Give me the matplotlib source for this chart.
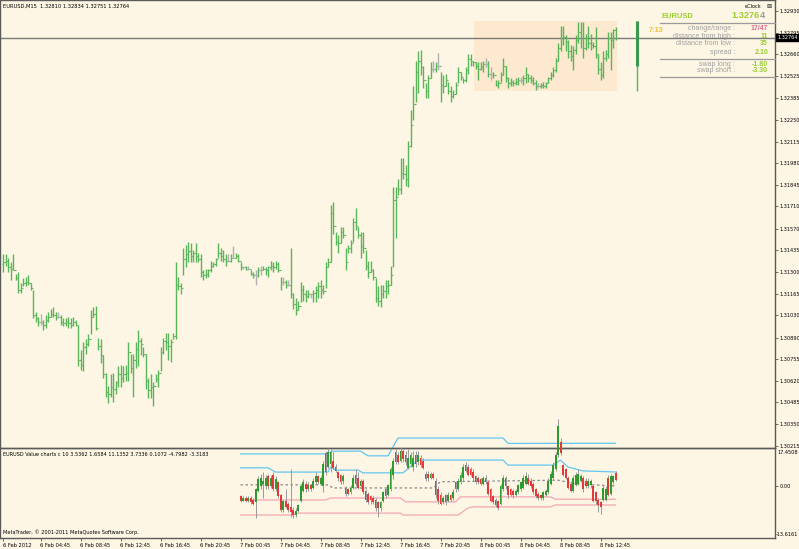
import matplotlib
matplotlib.use("Agg")
import matplotlib.pyplot as plt
import matplotlib.transforms as mtrans
from matplotlib.patches import Rectangle
import numpy as np

W, H = 799, 549
BG = '#fdf6e4'
plt.rcParams['font.family'] = ['DejaVu Sans']

# EURUSD M15 bars, 6 Feb 2012 -> 8 Feb 2012
highs = [
    1.3141, 1.3141, 1.3139, 1.3136, 1.3141, 1.3129, 1.3130, 1.3123, 1.3126, 1.3127,
    1.3128, 1.3123, 1.3119, 1.3105, 1.3102, 1.3104, 1.3100, 1.3103, 1.3105, 1.3107,
    1.3108, 1.3105, 1.3105, 1.3103, 1.3101, 1.3101, 1.3102, 1.3101, 1.3102, 1.3100,
    1.3097, 1.3081, 1.3086, 1.3088, 1.3091, 1.3106, 1.3108, 1.3109, 1.3089, 1.3088,
    1.3078, 1.3067, 1.3059, 1.3066, 1.3067, 1.3062, 1.3071, 1.3072, 1.3071, 1.3072,
    1.3086, 1.3079, 1.3079, 1.3086, 1.3094, 1.3089, 1.3083, 1.3079, 1.3064, 1.3066,
    1.3061, 1.3066, 1.3069, 1.3083, 1.3089, 1.3092, 1.3092, 1.3088, 1.3092, 1.3136,
    1.3127, 1.3123, 1.3145, 1.3147, 1.3149, 1.3148, 1.3144, 1.3148, 1.3142, 1.3141,
    1.3131, 1.3132, 1.3132, 1.3137, 1.3136, 1.3139, 1.3148, 1.3145, 1.3144, 1.3141,
    1.3141, 1.3141, 1.3146, 1.3142, 1.3141, 1.3136, 1.3134, 1.3134, 1.3134, 1.3131,
    1.3130, 1.3131, 1.3133, 1.3134, 1.3134, 1.3133, 1.3134, 1.3137, 1.3136, 1.3137,
    1.3136, 1.3127, 1.3127, 1.3125, 1.3125, 1.3145, 1.3117, 1.3114, 1.3112, 1.3124,
    1.3122, 1.3119, 1.3119, 1.3117, 1.3119, 1.3121, 1.3124, 1.3125, 1.3122, 1.3136,
    1.3139, 1.3172, 1.3174, 1.3155, 1.3153, 1.3158, 1.3158, 1.3145, 1.3147, 1.3150,
    1.3164, 1.3170, 1.3158, 1.3155, 1.3155, 1.3144, 1.3137, 1.3137, 1.3132, 1.3126,
    1.3121, 1.3122, 1.3122, 1.3125, 1.3125, 1.3134, 1.3183, 1.3183, 1.3188, 1.3201,
    1.3201, 1.3197, 1.3212, 1.3231, 1.3246, 1.3262, 1.3268, 1.3269, 1.3259, 1.3248,
    1.3253, 1.3261, 1.3262, 1.3261, 1.3267, 1.3255, 1.3253, 1.3254, 1.3249, 1.3246,
    1.3244, 1.3249, 1.3258, 1.3255, 1.3251, 1.3258, 1.3266, 1.3266, 1.3262, 1.3261,
    1.3261, 1.3261, 1.3262, 1.3264, 1.3262, 1.3258, 1.3255, 1.3250, 1.3250, 1.3255,
    1.3264, 1.3259, 1.3252, 1.3251, 1.3250, 1.3251, 1.3252, 1.3252, 1.3253, 1.3258,
    1.3254, 1.3253, 1.3252, 1.3250, 1.3248, 1.3248, 1.3249, 1.3249, 1.3252, 1.3255,
    1.3258, 1.3264, 1.3273, 1.3284, 1.3284, 1.3278, 1.3275, 1.3272, 1.3271, 1.3278,
    1.3286, 1.3286, 1.3286, 1.3279, 1.3284, 1.3279, 1.3274, 1.3283, 1.3266, 1.3261,
    1.3268, 1.3269, 1.3280, 1.3280, 1.3282, 1.32834,
]
lows = [
    1.3130, 1.3134, 1.3130, 1.3125, 1.3131, 1.3125, 1.3117, 1.3117, 1.3121, 1.3121,
    1.3122, 1.3119, 1.3101, 1.3099, 1.3096, 1.3097, 1.3094, 1.3095, 1.3099, 1.3102,
    1.3102, 1.3100, 1.3101, 1.3097, 1.3096, 1.3096, 1.3095, 1.3095, 1.3096, 1.3096,
    1.3071, 1.3069, 1.3068, 1.3079, 1.3084, 1.3091, 1.3102, 1.3094, 1.3081, 1.3073,
    1.3064, 1.3052, 1.3048, 1.3052, 1.3049, 1.3054, 1.3058, 1.3058, 1.3061, 1.3062,
    1.3062, 1.3067, 1.3052, 1.3070, 1.3071, 1.3078, 1.3077, 1.3057, 1.3051, 1.3051,
    1.3046, 1.3061, 1.3058, 1.3068, 1.3079, 1.3081, 1.3075, 1.3074, 1.3088, 1.3088,
    1.3119, 1.3116, 1.3128, 1.3133, 1.3136, 1.3136, 1.3136, 1.3136, 1.3136, 1.3127,
    1.3125, 1.3126, 1.3127, 1.3130, 1.3133, 1.3134, 1.3139, 1.3137, 1.3136, 1.3134,
    1.3136, 1.3136, 1.3139, 1.3139, 1.3136, 1.3131, 1.3132, 1.3131, 1.3131, 1.3128,
    1.3126, 1.3122, 1.3127, 1.3128, 1.3131, 1.3128, 1.3127, 1.3131, 1.3130, 1.3132,
    1.3130, 1.3119, 1.3122, 1.3120, 1.3121, 1.3114, 1.3107, 1.3103, 1.3106, 1.3111,
    1.3112, 1.3111, 1.3114, 1.3114, 1.3111, 1.3111, 1.3114, 1.3114, 1.3116, 1.3120,
    1.3133, 1.3136, 1.3154, 1.3147, 1.3142, 1.3148, 1.3151, 1.3131, 1.3142, 1.3142,
    1.3149, 1.3156, 1.3151, 1.3139, 1.3142, 1.3131, 1.3126, 1.3130, 1.3125, 1.3111,
    1.3109, 1.3108, 1.3114, 1.3114, 1.3116, 1.3122, 1.3133, 1.3151, 1.3178, 1.3179,
    1.3188, 1.3184, 1.3183, 1.3208, 1.3225, 1.3236, 1.3242, 1.3253, 1.3245, 1.3239,
    1.3239, 1.3251, 1.3255, 1.3255, 1.3256, 1.3236, 1.3242, 1.3246, 1.3241, 1.3236,
    1.3239, 1.3241, 1.3248, 1.3250, 1.3248, 1.3249, 1.3254, 1.3259, 1.3259, 1.3257,
    1.3250, 1.3256, 1.3255, 1.3258, 1.3252, 1.3250, 1.3251, 1.3246, 1.3245, 1.3249,
    1.3253, 1.3249, 1.3245, 1.3246, 1.3246, 1.3247, 1.3247, 1.3248, 1.3247, 1.3248,
    1.3249, 1.3248, 1.3247, 1.3244, 1.3245, 1.3245, 1.3245, 1.3245, 1.3248, 1.3250,
    1.3252, 1.3255, 1.3262, 1.3268, 1.3272, 1.3268, 1.3264, 1.3262, 1.3256, 1.3266,
    1.3273, 1.3270, 1.3264, 1.3269, 1.3270, 1.3269, 1.3270, 1.3264, 1.3254, 1.3250,
    1.3251, 1.3262, 1.3264, 1.3256, 1.3270, 1.32751,
]
closes = [
    1.3136, 1.3137, 1.3133, 1.3132, 1.3131, 1.3126, 1.3119, 1.3120, 1.3123, 1.3124,
    1.3123, 1.3120, 1.3103, 1.3101, 1.3099, 1.3099, 1.3097, 1.3100, 1.3102, 1.3104,
    1.3103, 1.3102, 1.3102, 1.3099, 1.3098, 1.3099, 1.3098, 1.3097, 1.3099, 1.3097,
    1.3075, 1.3072, 1.3083, 1.3085, 1.3088, 1.3102, 1.3104, 1.3095, 1.3084, 1.3078,
    1.3066, 1.3055, 1.3054, 1.3058, 1.3057, 1.3061, 1.3066, 1.3064, 1.3066, 1.3067,
    1.3080, 1.3070, 1.3075, 1.3082, 1.3087, 1.3085, 1.3079, 1.3062, 1.3056, 1.3058,
    1.3059, 1.3063, 1.3067, 1.3080, 1.3087, 1.3086, 1.3084, 1.3086, 1.3090, 1.3122,
    1.3121, 1.3120, 1.3138, 1.3141, 1.3143, 1.3140, 1.3142, 1.3140, 1.3138, 1.3130,
    1.3128, 1.3129, 1.3131, 1.3134, 1.3135, 1.3138, 1.3142, 1.3140, 1.3138, 1.3137,
    1.3137, 1.3139, 1.3139, 1.3140, 1.3137, 1.3133, 1.3133, 1.3132, 1.3132, 1.3129,
    1.3128, 1.3128, 1.3131, 1.3131, 1.3132, 1.3131, 1.3133, 1.3134, 1.3133, 1.3135,
    1.3131, 1.3124, 1.3124, 1.3122, 1.3122, 1.3116, 1.3110, 1.3106, 1.3109, 1.3119,
    1.3116, 1.3115, 1.3116, 1.3116, 1.3117, 1.3119, 1.3121, 1.3119, 1.3118, 1.3133,
    1.3136, 1.3167, 1.3159, 1.3149, 1.3148, 1.3155, 1.3153, 1.3136, 1.3145, 1.3148,
    1.3161, 1.3159, 1.3153, 1.3146, 1.3145, 1.3134, 1.3130, 1.3131, 1.3127, 1.3114,
    1.3112, 1.3116, 1.3118, 1.3121, 1.3122, 1.3128, 1.3175, 1.3177, 1.3182, 1.3192,
    1.3191, 1.3188, 1.3209, 1.3222, 1.3235, 1.3255, 1.3262, 1.3258, 1.3250, 1.3243,
    1.3251, 1.3257, 1.3257, 1.3259, 1.3259, 1.3247, 1.3246, 1.3250, 1.3243, 1.3240,
    1.3241, 1.3247, 1.3255, 1.3252, 1.3250, 1.3256, 1.3263, 1.3262, 1.3261, 1.3259,
    1.3257, 1.3258, 1.3260, 1.3260, 1.3254, 1.3254, 1.3253, 1.3247, 1.3248, 1.3253,
    1.3259, 1.3251, 1.3248, 1.3249, 1.3248, 1.3249, 1.3250, 1.3250, 1.3251, 1.3254,
    1.3251, 1.3250, 1.3248, 1.3246, 1.3246, 1.3247, 1.3246, 1.3248, 1.3251, 1.3253,
    1.3256, 1.3262, 1.3270, 1.3276, 1.3277, 1.3274, 1.3268, 1.3265, 1.3269, 1.3275,
    1.3280, 1.3276, 1.3270, 1.3276, 1.3273, 1.3272, 1.3271, 1.3266, 1.3257, 1.3253,
    1.3264, 1.3266, 1.3276, 1.3275, 1.3281, 1.32764,
]
first_open = 1.3135
cur_price = 1.32764
day_start = 189
day_high, day_low, day_open = 1.3287, 1.3243, 1.3259

price_ticks = [1.32930, 1.32795, 1.32660, 1.32525, 1.32385, 1.32250, 1.32115,
               1.31980, 1.31845, 1.31710, 1.31570, 1.31435, 1.31300, 1.31165,
               1.31030, 1.30890, 1.30755, 1.30620, 1.30485, 1.30350, 1.30215]
date_bars = [0, 15, 31, 47, 63, 79, 95, 111, 127, 143, 159, 175, 191, 207, 223, 239]
date_labels = ['6 Feb 2012', '6 Feb 04:45', '6 Feb 08:45', '6 Feb 12:45', '6 Feb 16:45',
               '6 Feb 20:45', '7 Feb 00:45', '7 Feb 04:45', '7 Feb 08:45', '7 Feb 12:45',
               '7 Feb 16:45', '7 Feb 20:45', '8 Feb 00:45', '8 Feb 04:45', '8 Feb 08:45',
               '8 Feb 12:45']

# Value chart (c 10) candles, from bar 95 on
vc_start = 95
vc_open = [
    -2.6, -3.7, -3.0, -3.7, -3.0, -3.4, -4.1, -1.2, 0.0, 0.7,
    0.0, 2.6, 0.0, 2.9, -0.8, 1.1, -2.3, -6.0, -3.7, -4.5,
    -5.2, -6.0, -7.4, -6.3, -3.7, -1.2, 0.7, -0.8, 0.3, -0.4,
    1.1, 2.6, 0.7, 0.0, 3.7, 5.1, 5.9, 6.6, 5.1, 3.7,
    2.9, 1.4, -0.4, -0.8, -1.5, -0.4, 0.7, 2.2, 0.0, 1.4,
    -1.2, -1.9, -2.6, -3.0, -3.4, -4.1, -5.6, -3.7, -2.6, -2.3,
    -0.8, 2.9, 6.3, 8.1, 6.6, 9.2, 8.1, 4.8, 5.9, 5.1,
    5.9, 6.3, 7.4, 6.6, 1.8, 3.3, 2.2, 3.3, 1.4, -0.8,
    -2.3, -4.1, -2.3, -3.7, -2.3, -3.0, -0.8, -0.8, 1.1, 2.2,
    4.0, 5.1, 4.4, 3.7, 2.6, 2.2, 1.8, 0.7, 1.1, 1.1,
    -0.8, -2.6, -3.4, -3.7, -4.5, -0.8, 2.2, 0.0, -0.8, -1.2,
    -2.3, -1.5, -0.8, -0.4, 0.7, 2.2, 1.4, 0.7, -0.8, -1.9,
    -2.3, -3.0, -2.3, -1.5, 0.7, 2.2, 4.4, 8.1, 11.5, 5.5,
    4.4, 2.2, 0.7, -1.2, 0.3, 0.7, 1.4, 2.2, 1.4, 0.0,
    0.3, 0.0, -1.5, -3.4, -4.1, -3.4, -3.4, 2.2, -1.9, 1.1, 3.54,
]
vc_high = [
    -2.3, -2.6, -2.6, -2.6, -2.6, -3.0, -0.4, 2.6, 3.3, 3.7,
    2.9, 3.3, 2.9, 3.7, 2.6, 1.4, -1.9, -3.4, -0.8, -4.0,
    4.4, -5.2, -5.6, -4.5, 0.7, 1.8, 1.4, 1.1, 0.7, 2.2,
    3.7, 2.9, 2.6, 6.6, 9.2, 9.9, 9.6, 8.8, 5.9, 4.0,
    3.3, 3.3, 0.0, -0.4, 0.3, 2.9, 4.4, 3.7, 1.8, 1.8,
    -0.8, -1.5, -2.3, -2.6, -3.0, -3.7, -3.7, -1.2, -0.4, 0.7,
    5.1, 7.4, 9.6, 8.8, 9.9, 9.7, 9.2, 9.6, 8.8, 9.2,
    9.2, 9.2, 8.1, 7.4, 4.0, 4.0, 3.7, 3.7, 2.2, 0.0,
    -1.5, -2.6, -1.9, -1.5, -1.9, -0.8, 1.4, 2.2, 3.7, 5.9,
    6.3, 5.9, 5.1, 4.4, 2.9, 2.6, 2.2, 2.6, 2.9, 1.4,
    -0.4, -2.3, -3.0, -3.4, 0.7, 2.9, 2.6, 0.3, -0.4, -0.8,
    -0.8, 0.7, 1.4, 2.9, 3.7, 3.3, 2.2, 1.1, -0.4, -1.5,
    -1.9, -1.2, -0.8, 2.2, 4.0, 6.3, 8.8, 17.45, 12.5, 5.9,
    4.8, 2.6, 1.4, 2.9, 3.7, 4.4, 3.3, 2.6, 2.2, 2.2,
    1.8, 0.3, -1.2, -3.0, -3.7, 0.3, 0.0, 2.9, 3.3, 2.9, 3.9,
]
vc_low = [
    -4.1, -3.7, -4.1, -4.1, -4.5, -4.9, -8.2, -1.5, -0.8, -3.0,
    -0.8, -0.8, -0.4, -1.2, -1.2, -3.0, -6.7, -6.7, -5.6, -6.5,
    -7.8, -8.2, -7.8, -6.7, -4.1, -1.5, -1.5, -1.2, -1.2, -0.8,
    0.7, 0.7, 0.3, -1.5, 2.9, 4.8, 3.7, 4.4, 3.7, 1.4,
    0.7, 0.7, -2.6, -2.3, -1.9, -0.8, 0.0, -0.8, -0.8, -1.9,
    -4.1, -4.5, -4.5, -4.5, -6.3, -7.8, -6.3, -4.1, -3.0, -2.6,
    -1.2, 1.8, 5.9, 5.9, 6.3, 6.3, 5.5, 4.4, 5.1, 4.0,
    5.1, 5.5, 5.1, 4.4, 1.4, 1.4, 1.8, 1.8, -3.0, -4.5,
    -4.9, -4.5, -4.9, -4.1, -3.7, -3.4, -1.5, -1.2, 0.7, 1.4,
    3.7, 2.6, 2.6, 1.4, 0.7, 0.7, 0.3, 0.3, 0.7, -2.3,
    -4.1, -4.5, -5.2, -6.0, -4.9, -1.2, -0.8, -3.0, -2.6, -3.0,
    -2.6, -1.9, -1.2, -0.8, 0.3, 0.3, -0.4, -1.9, -3.0, -3.4,
    -3.4, -3.4, -2.6, -1.9, 0.3, 1.8, 4.0, 7.5, 8.2, 2.6,
    1.8, -0.8, -1.5, -1.5, 0.0, 0.3, 1.1, -1.5, -0.4, -0.4,
    -0.4, -4.1, -4.5, -6.7, -7.1, -3.7, -3.7, -2.6, -2.3, 0.7, 1.4,
]
vc_close = [
    -3.7, -3.0, -3.7, -3.0, -4.1, -4.5, -0.8, 1.8, 2.2, 1.4,
    2.2, 0.0, 2.2, -0.8, 1.8, -2.6, -6.0, -3.7, -5.2, -6.0,
    -6.7, -7.4, -6.3, -4.9, 0.0, 1.1, -0.8, 0.3, -0.8, 1.4,
    2.6, 1.1, 2.2, 5.9, 8.5, 8.8, 8.8, 4.8, 4.0, 2.2,
    1.1, 2.6, -1.9, -1.9, -0.4, 2.2, 2.9, -0.4, 1.4, -1.5,
    -3.4, -4.1, -3.4, -4.1, -5.6, -5.6, -4.1, -1.5, -0.8, 0.3,
    4.4, 6.6, 8.8, 6.3, 9.2, 7.0, 6.3, 7.4, 8.1, 7.4,
    8.1, 8.1, 5.5, 4.8, 3.3, 2.2, 3.3, 2.2, -2.3, -3.7,
    -4.5, -3.0, -4.1, -2.3, -3.4, -1.5, 1.1, 1.4, 2.9, 5.1,
    5.5, 2.9, 2.9, 2.2, 1.1, 1.1, 0.7, 2.2, 2.2, -1.9,
    -3.7, -4.1, -4.9, -5.6, 0.0, 2.2, 0.0, -2.3, -2.3, -2.3,
    -1.2, 0.3, 1.1, 2.2, 2.6, 0.7, 0.0, -1.5, -2.6, -3.0,
    -3.0, -1.5, -1.2, 1.4, 3.3, 5.5, 8.1, 15.5, 8.6, 2.9,
    2.2, -0.4, -1.2, 2.2, 2.9, 3.3, 2.6, -0.8, 0.0, 1.4,
    1.4, -3.7, -3.7, -4.9, -5.2, -0.4, -0.8, -2.3, 2.6, 2.6, 1.66,
]

# band lines: (bar, level) break points
upper_band_x = [95, 129, 132, 143, 146, 154, 158, 200, 202, 245]
upper_band_y = [8.4, 8.4, 9.1, 9.1, 7.9, 7.9, 12.5, 12.5, 11.1, 11.14]
inner_band_x = [95, 106, 109, 130, 131, 133, 142, 144, 160, 166, 200, 202, 220, 223, 226, 232, 245]
inner_band_y = [4.8, 4.8, 3.7, 3.7, 5.0, 4.2, 4.2, 3.5, 3.5, 6.8, 6.8, 5.5, 5.5, 6.8, 5.0, 4.0, 3.73]
mid_x = [95, 130, 132, 172, 175, 222, 230, 245]
mid_y = [0.4, 0.4, -0.4, -0.4, 1.2, 1.6, 0.6, 0.11]
pink_in_x = [95, 129, 131, 159, 161, 181, 183, 219, 221, 245]
pink_in_y = [-3.5, -3.5, -3.0, -3.0, -4.0, -4.0, -2.7, -2.7, -3.3, -3.32]
pink_out_x = [95, 116, 118, 159, 160, 182, 186, 188, 219, 221, 245]
pink_out_y = [-7.4, -7.4, -6.9, -6.9, -7.4, -7.4, -5.6, -5.3, -5.3, -4.8, -4.8]


def px_axes(fig, l, t, w, h):
    return fig.add_axes([l / W, 1 - (t + h) / H, w / W, h / H])


def ftext(fig, x, y, s, **kw):
    kw.setdefault('va', 'center')
    return fig.text(x / W, 1 - y / H, s, **kw)


fig = plt.figure(figsize=(W / 100, H / 100), dpi=100, facecolor=BG)
XLIM = (-1.2, 308.8)

# ---------------- main price window ----------------
ax = px_axes(fig, 0, 0, 775, 448)
ax.set_facecolor(BG)
ax.set_xlim(*XLIM)
ax.set_ylim(1.3020, 1.3300)

n = len(closes)
idx = np.arange(n)
opens = np.array([first_open] + closes[:-1])
cl = np.array(closes)

ax.add_patch(Rectangle((day_start - 0.5, day_low), n - day_start, day_high - day_low,
                       facecolor='#fce9d0', edgecolor='none', zorder=1))

cols = np.where(np.isclose(opens, cl), '#b0b0b0', '#5ab45a')
ax.vlines(idx, lows, highs, colors=cols, lw=1.0, zorder=3)
ax.hlines(opens, idx - 0.45, idx, colors=cols, lw=0.8, zorder=3)
ax.hlines(cl, idx, idx + 0.45, colors=cols, lw=0.8, zorder=3)

ax.axhline(cur_price, color='#7a7a7a', lw=1.0, zorder=2)

# eClock day bar
ax.vlines(253.6, day_low, day_high, colors='#5ab45a', lw=1.0, zorder=3)
ax.vlines(253.6, day_open, day_high, colors='#3c9a50', lw=2.2, zorder=3)

ax.set_xticks([])
ax.yaxis.tick_right()
ax.set_yticks(price_ticks)
ax.set_yticklabels(['%.5f' % p for p in price_ticks])
ax.tick_params(axis='y', direction='out', length=2, width=0.6, color='#555555',
               labelsize=3.6, pad=1)
for s in ax.spines.values():
    s.set_color('#5a5a5a')
    s.set_linewidth(1.0)

tr = mtrans.blended_transform_factory(ax.transAxes, ax.transData)
ax.text(1.003, cur_price, '%.5f' % cur_price, transform=tr, color='white', fontsize=3.6,
        va='center', ha='left', zorder=6,
        bbox=dict(facecolor='black', edgecolor='black', pad=0.8))

ftext(fig, 3, 6, 'EURUSD,M15  1.32810 1.32834 1.32751 1.32764', fontsize=3.7, color='black')

# eClock panel
ftext(fig, 745, 6, 'eClock', fontsize=3.6, color='black')
ftext(fig, 766, 6, '\u22a0', fontsize=4.5, color='#333333')
ftext(fig, 662, 16, 'EURUSD', fontsize=5.4, color='#9acd32', fontweight='bold',
      family='Liberation Sans')
ftext(fig, 760, 16, '1.3276', fontsize=6.6, color='#9acd32', fontweight='bold',
      ha='right', family='Liberation Sans')
ftext(fig, 760, 16, '4', fontsize=6.6, color='#9a9a9a', fontweight='bold',
      ha='left', family='Liberation Sans')
ftext(fig, 649, 30, '7:13', fontsize=5.2, color='#f0c030', fontweight='bold',
      family='Liberation Sans')
rows = [(29, 'change/range :', '17/47', '#e06a90'),
        (36, 'distance from high :', '11', '#9acd32'),
        (44, 'distance from low :', '35', '#9acd32'),
        (52, 'spread :', '2.10', '#9acd32'),
        (64, 'swap long :', '-1.80', '#9acd32'),
        (71, 'swap short :', '-3.30', '#9acd32')]
for y, lab, val, c in rows:
    ftext(fig, 735, y, lab, fontsize=5.0, color='#a0a0a0', ha='right',
          family='Liberation Sans')
    ftext(fig, 768, y, val, fontsize=5.0, color=c, ha='right', fontweight='bold',
          family='Liberation Sans')
for y in (23, 59, 77):
    fig.add_artist(plt.Line2D([660 / W, 775 / W], [1 - y / H, 1 - y / H],
                              color='#9a9a9a', lw=0.9))

# ---------------- value chart sub window ----------------
sub = px_axes(fig, 0, 448, 775, 90)
sub.set_facecolor('none')
sub.set_xlim(*XLIM)
sub.set_ylim(-13.33, 9.92)

vo = np.array(vc_open)
vh = np.array(vc_high)
vl = np.array(vc_low)
vcl = np.array(vc_close)
vx = np.arange(vc_start, vc_start + len(vo))

for xs, ys, c, ls in [(upper_band_x, upper_band_y, '#62c6f0', '-'),
                      (inner_band_x, inner_band_y, '#62c6f0', '-'),
                      (mid_x, mid_y, '#8a8a8a', (0, (2, 2))),
                      (pink_in_x, pink_in_y, '#f3a6b4', '-'),
                      (pink_out_x, pink_out_y, '#f3a6b4', '-')]:
    sub.plot(xs, ys, color=c, lw=0.9, ls=ls, clip_on=False, zorder=2)

sub.vlines(vx, vl, vh, colors='#9a9a9a', lw=0.7, clip_on=False, zorder=3)
up = vcl >= vo
body_lo = np.minimum(vo, vcl)
body_h = np.maximum(np.abs(vcl - vo), 0.25)
sub.bar(vx, body_h, bottom=body_lo, width=0.8,
        color=np.where(up, '#2f9a2f', '#e23a3a'), edgecolor='none',
        clip_on=False, zorder=4)

sub.yaxis.tick_right()
sub.set_yticks([0])
sub.set_yticklabels(['0.00'])
sub.tick_params(axis='y', direction='out', length=2, width=0.6, color='#555555',
                labelsize=3.6, pad=1)
sub.set_xticks(date_bars)
sub.set_xticklabels(date_labels)
sub.tick_params(axis='x', direction='out', length=2, width=0.6, color='#555555',
                labelsize=3.7, pad=1.5)
for lbl in sub.get_xticklabels():
    lbl.set_ha('left')
for s in sub.spines.values():
    s.set_color('#5a5a5a')
    s.set_linewidth(1.0)

ftext(fig, 3, 454, 'EURUSD Value charts c 10 3.5362 1.6584 11.1352 3.7336 0.1072 -4.7982 -3.3183',
      fontsize=3.6, color='black')
ftext(fig, 3, 532, 'MetaTrader, \u00a9 2001-2011 MetaQuotes Software Corp.', fontsize=3.6,
      color='black')
ftext(fig, 777, 452, '17.4508', fontsize=3.6, color='black')
ftext(fig, 776, 535, '-13.6161', fontsize=3.6, color='black')

fig.savefig('out.png', dpi=100, facecolor=BG)
